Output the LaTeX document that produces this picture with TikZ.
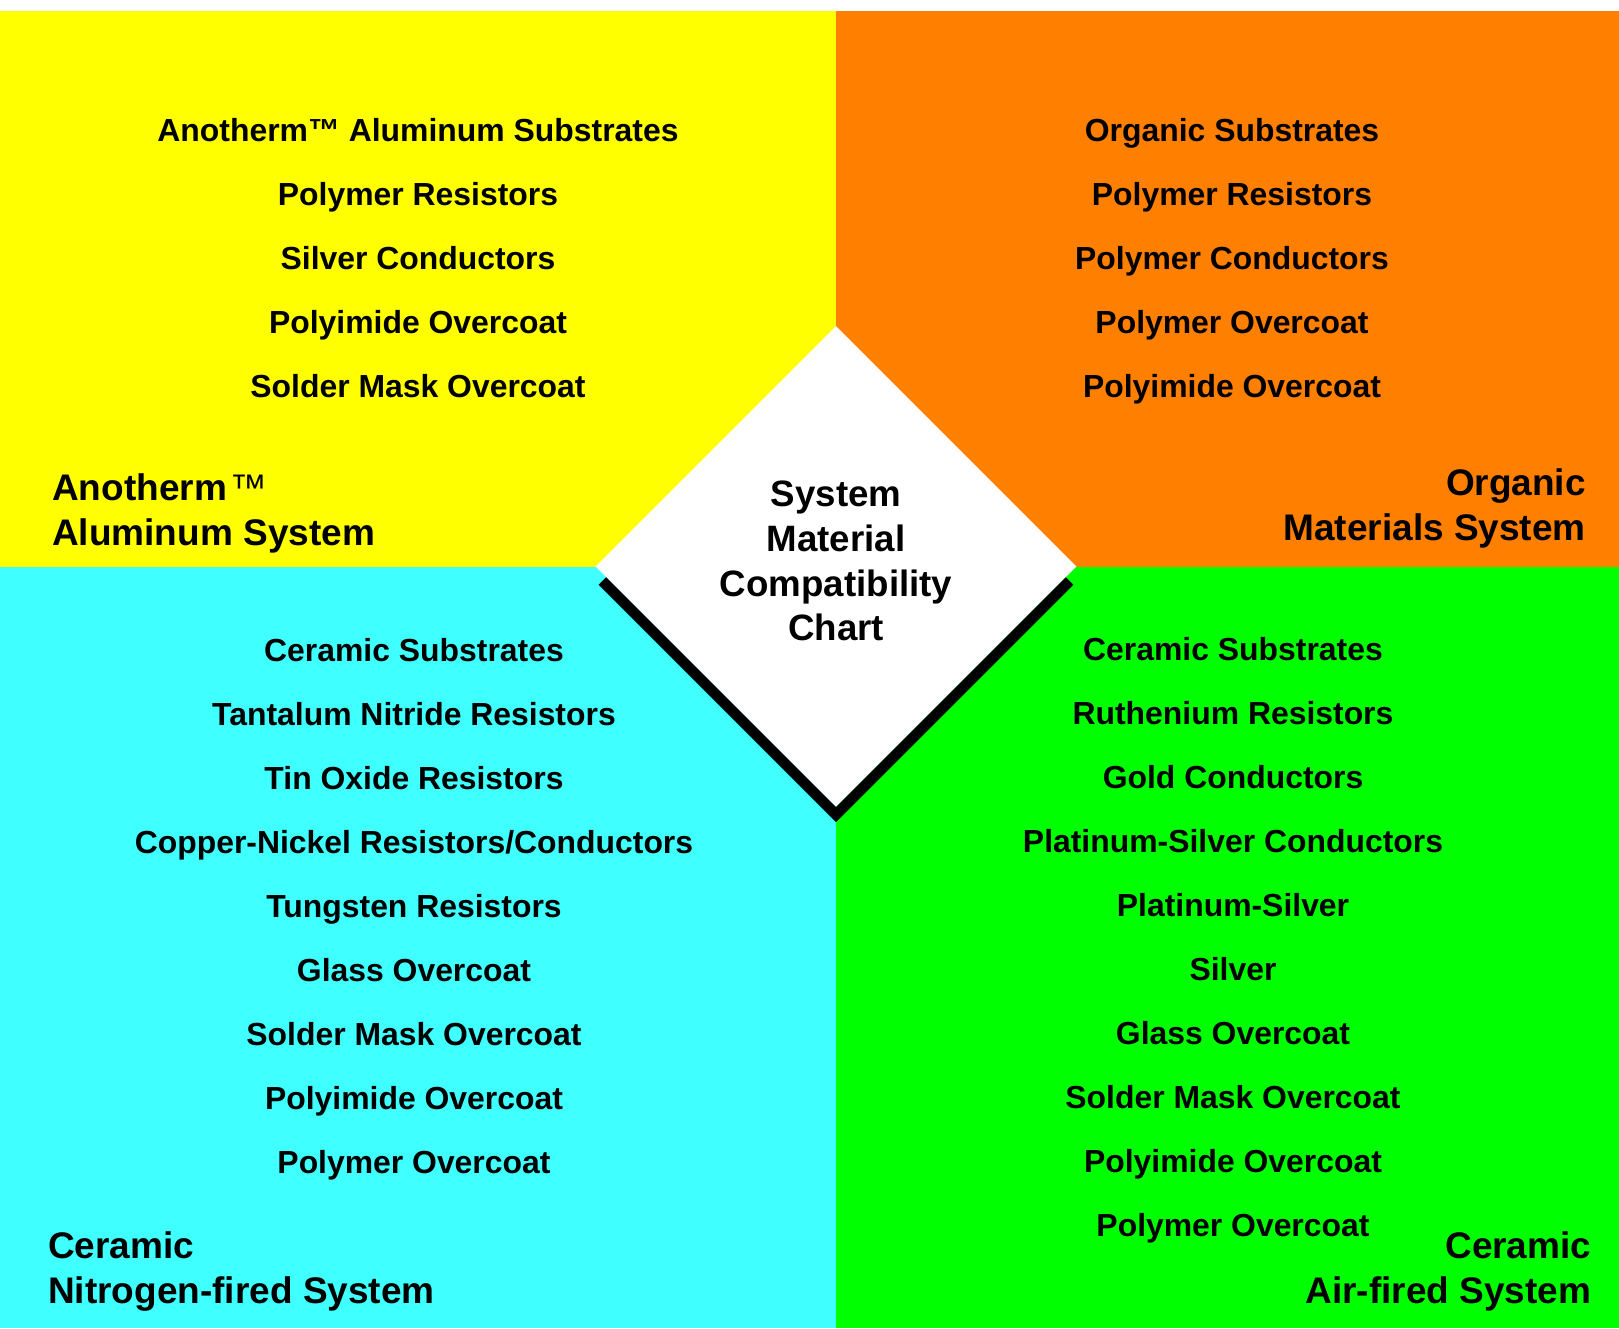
\documentclass[tikz,border=0pt]{standalone}
\usepackage{fontspec}
\setmainfont{Liberation Sans}
\usetikzlibrary{shapes.geometric}
\definecolor{qyellow}{RGB}{255,255,0}
\definecolor{qorange}{RGB}{255,127,0}
\definecolor{qcyan}{RGB}{64,255,255}
\definecolor{qgreen}{RGB}{0,255,0}
\tikzset{
  itemtext/.style={font=\fontsize{31.9}{38}\selectfont\bfseries, anchor=base, inner sep=0pt},
  headtext/.style={font=\fontsize{37}{44}\selectfont\bfseries, inner sep=0pt}
}
\begin{document}
\begin{tikzpicture}[x=1pt,y=-1pt]
\useasboundingbox (0,0) rectangle (1619,1328);
\fill[white] (0,0) rectangle (1619,1328);
% quadrants
\fill[qyellow] (0,11) rectangle (836,566.5);
\fill[qorange] (836,11) rectangle (1619,566.5);
\fill[qcyan] (0,566.5) rectangle (836,1328);
\fill[qgreen] (836,566.5) rectangle (1619,1328);
% diamond
\node[diamond, fill=white, draw=none, minimum width=481pt, minimum height=481pt, inner sep=0pt] (dia) at (836,566.5) {};
\draw[line width=10.6pt, line join=miter]
  ([xshift=7pt,yshift=-14.5pt]dia.west) -- ([yshift=-7.5pt]dia.south) -- ([xshift=-7pt,yshift=-14.5pt]dia.east);
\node[headtext, align=center, font=\fontsize{36.7}{44.8}\selectfont\bfseries] (title) at (836,561) {System\\Material\\Compatibility\\Chart};
% yellow list
\foreach \t [count=\i] in {Anotherm™ Aluminum Substrates, Polymer Resistors, Silver Conductors, Polyimide Overcoat, Solder Mask Overcoat}
  \node[itemtext] (ya\i) at (418,{141+64*(\i-1)}) {\t};
% orange list
\foreach \t [count=\i] in {Organic Substrates, Polymer Resistors, Polymer Conductors, Polymer Overcoat, Polyimide Overcoat}
  \node[itemtext] (ob\i) at (1232,{141.5+64*(\i-1)}) {\t};
% cyan list
\foreach \t [count=\i] in {Ceramic Substrates, Tantalum Nitride Resistors, Tin Oxide Resistors, {Copper-Nickel Resistors/Conductors}, Tungsten Resistors, Glass Overcoat, Solder Mask Overcoat, Polyimide Overcoat, Polymer Overcoat}
  \node[itemtext] (cc\i) at (414,{661+64*(\i-1)}) {\t};
% green list
\foreach \t [count=\i] in {Ceramic Substrates, Ruthenium Resistors, Gold Conductors, Platinum-Silver Conductors, Platinum-Silver, Silver, Glass Overcoat, Solder Mask Overcoat, Polyimide Overcoat, Polymer Overcoat}
  \node[itemtext] (gd\i) at (1233,{660+64*(\i-1)}) {\t};
% headings
\node[headtext, anchor=base west] (yh1) at (52,500) {Anotherm\kern3pt{\mdseries™}};
\node[headtext, anchor=base west] (yh2) at (52,545.5) {Aluminum System};
\node[headtext, anchor=base east] (oh1) at (1586,495) {Organic};
\node[headtext, anchor=base east] (oh2) at (1586,540) {Materials System};
\node[headtext, anchor=base west] (ch1) at (48,1258) {Ceramic};
\node[headtext, anchor=base west] (ch2) at (48,1303.5) {Nitrogen-fired System};
\node[headtext, anchor=base east] (gh1) at (1591.5,1258) {Ceramic};
\node[headtext, anchor=base east] (gh2) at (1591.5,1303.5) {Air-fired System};
\end{tikzpicture}
\end{document}
